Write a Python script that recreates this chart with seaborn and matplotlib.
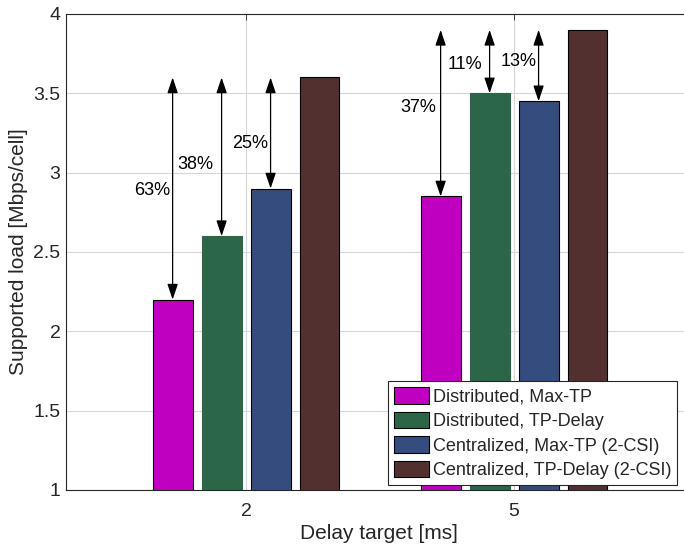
import matplotlib
matplotlib.use("Agg")
import matplotlib.pyplot as plt
import seaborn as sns
import pandas as pd

# ---- data ----
delay_targets = ["2", "5"]
schemes = ["Distributed, Max-TP", "Distributed, TP-Delay",
           "Centralized, Max-TP (2-CSI)", "Centralized, TP-Delay (2-CSI)"]
dist_maxtp = [2.2, 2.85]
dist_tpdelay = [2.6, 3.5]
cent_maxtp = [2.9, 3.45]
cent_tpdelay = [3.6, 3.9]
colors = ["#C000C0", "#2B6649", "#344D7E", "#523030"]

# percentage gains relative to Centralized TP-Delay (per scheme index, per delay target)
gain_labels = {0: ["63%", "37%"], 1: ["38%", "11%"], 2: ["25%", "13%"]}
gain_label_y = {0: [2.886, 3.413], 1: [3.054, 3.684], 2: [3.186, 3.70]}
label_offsets_pt = {0: [-2.0, -3.0], 1: [-6.0, -5.0], 2: [-2.0, -1.5]}

series = [dist_maxtp, dist_tpdelay, cent_maxtp, cent_tpdelay]
rows = []
for s, vals in zip(schemes, series):
    for d, v in zip(delay_targets, vals):
        rows.append({"delay": d, "load": v, "scheme": s})
df = pd.DataFrame(rows)

sns.set_theme(style="white")
plt.rcParams["font.family"] = ["Liberation Sans", "DejaVu Sans"]
plt.rcParams["font.size"] = 13

fig = plt.figure(figsize=(6.84, 5.45), dpi=100)
ax = fig.add_axes([66 / 684, 55 / 545, 618 / 684, 476 / 545])

sns.barplot(data=df, x="delay", y="load", hue="scheme", order=delay_targets,
            hue_order=schemes, palette=colors, width=0.731, gap=0.186,
            edgecolor="black", linewidth=0.8, saturation=1, ax=ax, legend=True)

ax.set_xlim(-0.672, 1.634)
ax.set_ylim(1, 4)
ax.set_yticks([1, 1.5, 2, 2.5, 3, 3.5, 4])
ax.set_yticklabels(["1", "1.5", "2", "2.5", "3", "3.5", "4"])
ax.set_xlabel("Delay target [ms]", fontsize=15, color="#262626")
ax.set_ylabel("Supported load [Mbps/cell]", fontsize=15, color="#262626")
ax.yaxis.set_label_coords(-0.0615, 0.5)
ax.xaxis.set_label_coords(0.506, -0.0714)
ax.tick_params(axis="both", direction="in", length=4, width=0.6, colors="#262626",
               labelsize=14, top=True, right=False)
ax.tick_params(axis="x", pad=9)
ax.tick_params(axis="y", pad=4)
ax.grid(True, color="#D6D6D6", linewidth=0.8)
ax.set_axisbelow(True)
for side in ["left", "bottom", "top"]:
    ax.spines[side].set_color("#262626")
    ax.spines[side].set_linewidth(0.8)
ax.spines["right"].set_visible(False)

# green bars edge like face
for bar in ax.containers[1]:
    bar.set_edgecolor(colors[1])

# arrows and gain labels
ref_vals = cent_tpdelay
for si in range(3):
    cont = ax.containers[si]
    for gi, bar in enumerate(cont):
        bx = bar.get_x() + bar.get_width() / 2
        ytop = ref_vals[gi]
        ybot = series[si][gi]
        ax.annotate("", xy=(bx, ybot), xytext=(bx, ytop),
                    arrowprops=dict(arrowstyle="<|-|>,head_length=0.95,head_width=0.32",
                                    color="black", lw=0.9, shrinkA=0, shrinkB=0,
                                    mutation_scale=10))
        ax.annotate(gain_labels[si][gi], xy=(bx, gain_label_y[si][gi]),
                    xytext=(label_offsets_pt[si][gi], 0), textcoords="offset points",
                    ha="right", va="center", fontsize=13, color="black")

handles, labels = ax.get_legend_handles_labels()
leg = ax.legend(handles[:4], labels[:4], loc="lower right",
                bbox_to_anchor=(0.9887, 0.0105), borderaxespad=0,
                fontsize=13, frameon=True, fancybox=False, framealpha=1,
                edgecolor="#262626", handlelength=1.95, handleheight=1.05,
                handletextpad=0.17, labelspacing=0.33, borderpad=0.33)
leg.get_frame().set_linewidth(0.8)
for h in leg.legend_handles:
    h.set_edgecolor("black")
    h.set_linewidth(0.8)

fig.savefig("out.png", dpi=100)
